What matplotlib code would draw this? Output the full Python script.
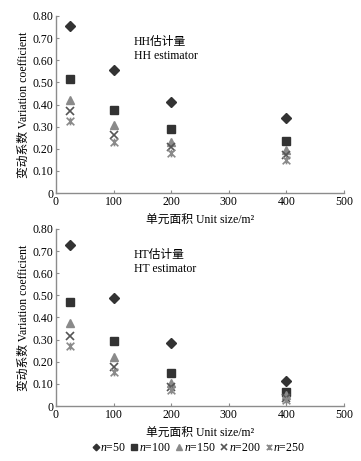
import matplotlib
matplotlib.use("Agg")
import matplotlib.pyplot as plt
from matplotlib.path import Path

plt.rcParams['font.family'] = ['Liberation Serif', 'Noto Sans CJK SC']
plt.rcParams['mathtext.fontset'] = 'custom'
plt.rcParams['mathtext.it'] = 'Liberation Serif:italic'
plt.rcParams['mathtext.rm'] = 'Liberation Serif'

# unit sizes (m^2)
unit_size = [25, 100, 200, 400]
sample_n = [50, 100, 150, 200, 250]

# HH estimator, variation coefficient per sample size
hh_n50 = [0.757, 0.554, 0.411, 0.340]
hh_n100 = [0.517, 0.373, 0.288, 0.236]
hh_n150 = [0.422, 0.309, 0.230, 0.193]
hh_n200 = [0.369, 0.264, 0.208, 0.170]
hh_n250 = [0.325, 0.230, 0.181, 0.151]

# HT estimator
ht_n50 = [0.728, 0.490, 0.284, 0.114]
ht_n100 = [0.472, 0.293, 0.147, 0.064]
ht_n150 = [0.376, 0.223, 0.106, 0.050]
ht_n200 = [0.316, 0.176, 0.088, 0.038]
ht_n250 = [0.270, 0.152, 0.073, 0.027]

yticks = [0, 0.1, 0.2, 0.3, 0.4, 0.5, 0.6, 0.7, 0.8]
ytick_labels = ['0', '0.10', '0.20', '0.30', '0.40', '0.50', '0.60', '0.70', '0.80']
xticks = [0, 100, 200, 300, 400, 500]

# excel style star: an X with a short vertical bar
star = Path([(-1, -1), (1, 1), (-1, 1), (1, -1), (0, -1), (0, 1)],
            [Path.MOVETO, Path.LINETO, Path.MOVETO, Path.LINETO,
             Path.MOVETO, Path.LINETO])

styles = [
    dict(marker='D', color='#333333', ms=4.8),
    dict(marker='s', color='#333333', ms=6.0),
    dict(marker='^', color='#8a8a8a', ms=6.0),
    dict(marker='x', color='#555555', ms=5.5, mew=1.2),
    dict(marker=star, color='#8a8a8a', ms=5.5, mew=1.2),
]

fs = 8.5
axcol = '#8c8c8c'

fig = plt.figure(figsize=(3.61, 4.61), dpi=100)
ax1 = fig.add_axes([0.155, 0.5813, 0.798, 0.384])
ax2 = fig.add_axes([0.155, 0.1193, 0.798, 0.384])


def draw(ax, series, title_cn, title_en):
    for vals, st, n in zip(series, styles, sample_n):
        ax.plot(unit_size, vals, linestyle='none', marker=st['marker'],
                color=st['color'], markersize=st['ms'],
                markeredgewidth=st.get('mew', 1.0),
                label='$n$=%d' % n)
    ax.set_xlim(0, 500)
    ax.set_ylim(0, 0.8)
    ax.set_xticks(xticks)
    ax.set_yticks(yticks)
    ax.set_yticklabels(ytick_labels)
    ax.tick_params(direction='in', length=2.5, width=0.8, color=axcol,
                   labelsize=fs, pad=2)
    for s in ['top', 'right']:
        ax.spines[s].set_visible(False)
    for s in ['left', 'bottom']:
        ax.spines[s].set_color(axcol)
        ax.spines[s].set_linewidth(1.0)
    ax.set_ylabel('变动系数 Variation coefficient', fontsize=fs, labelpad=2)
    ax.set_xlabel('单元面积 Unit size/m²', fontsize=fs, labelpad=5)
    ax.text(135, 0.71, title_cn, fontsize=fs, va='top')
    ax.text(135, 0.645, title_en, fontsize=fs, va='top')


draw(ax1, [hh_n50, hh_n100, hh_n150, hh_n200, hh_n250], 'HH估计量', 'HH estimator')
draw(ax2, [ht_n50, ht_n100, ht_n150, ht_n200, ht_n250], 'HT估计量', 'HT estimator')

handles, labels = ax2.get_legend_handles_labels()
fig.legend(handles, labels, loc='center', bbox_to_anchor=(0.55, 0.028),
           ncol=5, frameon=False, fontsize=fs, handlelength=0.6,
           handletextpad=0.1, columnspacing=0.4, markerscale=0.7)

fig.savefig('out.png', dpi=100, facecolor='white')
